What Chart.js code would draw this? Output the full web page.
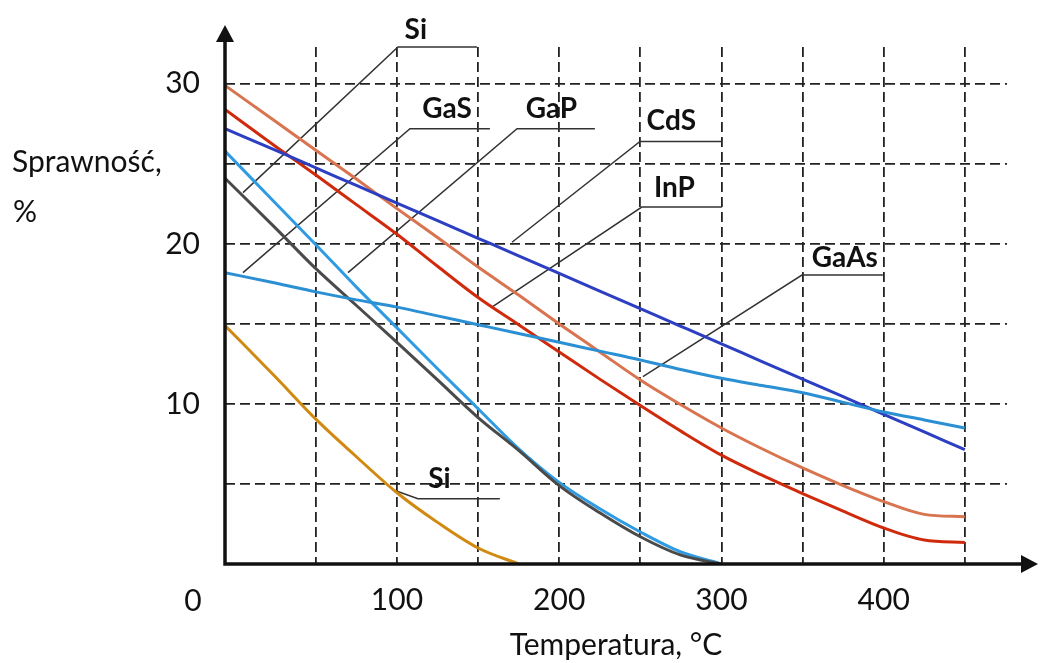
<!DOCTYPE html>
<html>
<head>
<meta charset="utf-8">
<script src="https://cdn.jsdelivr.net/npm/chart.js@4.4.1/dist/chart.umd.min.js"></script>
<style>
  html, body { margin: 0; padding: 0; background: #fff; }
  #wrap { width: 1040px; height: 663px; position: relative; }
</style>
</head>
<body>
<div id="wrap"><canvas id="effChart"></canvas></div>
<script>
// temperature, °C (shared sampling for every curve)
const temps = [-6, 25, 50, 75, 100, 125, 150, 175, 200, 225, 250, 275, 300, 325, 350, 375, 400, 425, 450];

// efficiency, % (null = curve ended)
const cdsVals  = [27.2, 25.85, 24.75, 23.65, 22.55, 21.45, 20.35, 19.25, 18.15, 17.05, 15.95, 14.85, 13.75, 12.65, 11.55, 10.45, 9.35, 8.25, 7.15];
const gaasVals = [29.9, 27.66, 25.85, 24.05, 22.2, 20.4, 18.55, 16.8, 15.0, 13.25, 11.5, 9.95, 8.5, 7.2, 6.0, 4.9, 3.9, 3.1, 2.95];
const inpVals  = [28.4, 26.1, 24.3, 22.45, 20.6, 18.6, 16.65, 14.95, 13.25, 11.55, 9.9, 8.3, 6.8, 5.55, 4.4, 3.3, 2.25, 1.5, 1.35];
const gasVals  = [18.2, 17.55, 17.0, 16.5, 16.05, 15.5, 14.95, 14.4, 13.85, 13.3, 12.75, 12.15, 11.6, 11.15, 10.7, 10.1, 9.5, 9.0, 8.5];
const gapVals  = [25.8, 22.55, 19.95, 17.3, 14.75, 12.2, 9.7, 7.2, 5.1, 3.45, 2.0, 0.75, 0, null, null, null, null, null, null];
const siHiVals = [24.1, 21.0, 18.45, 16.15, 13.85, 11.5, 9.15, 7.1, 4.9, 3.2, 1.7, 0.55, 0, null, null, null, null, null, null];
const siLoVals = [14.9, 11.7, 9.05, 6.7, 4.45, 2.6, 1.0, 0, null, null, null, null, null, null, null, null, null, null, null];

// grid and tick labels
const xGrid = [50, 100, 150, 200, 250, 300, 350, 400, 450];
const xTickLabels = [100, 200, 300, 400];
const yGrid = [5, 10, 15, 20, 25, 30];
const yTickLabels = [10, 20, 30];

// curve names with their leader lines, in data units
const notes = [
  { name: "Si",   at: [111.6, 32.8], path: [[5.1, 23.2], [100.6, 32.3], [149.3, 32.3]] },
  { name: "GaS",  at: [130.9, 27.85], path: [[5.1, 18.2], [108, 27.2], [157.3, 27.2]] },
  { name: "GaP",  at: [195.2, 27.85], path: [[69.8, 18.2], [174, 27.2], [222, 27.2]] },
  { name: "CdS",  at: [269.1, 27.1], path: [[170.9, 20.1], [249.8, 26.4], [300.3, 26.4]] },
  { name: "InP",  at: [271, 22.9], path: [[158.5, 16.05], [250.9, 22.3], [300.3, 22.3]] },
  { name: "GaAs", at: [376, 18.55], path: [[251.6, 11.7], [349.6, 18.05], [399.5, 18.05]] },
  { name: "Si",   at: [126.2, 4.77], path: [[97.5, 4.64], [112.9, 4.08], [163.4, 4.08]] },
];

function toPoints(vals) {
  const pts = [];
  vals.forEach((v, i) => {
    if (v !== null) pts.push({ x: temps[i], y: v });
  });
  return pts;
}

function curve(vals, color) {
  return {
    data: toPoints(vals),
    borderColor: color,
    borderWidth: 3,
    pointRadius: 0,
    fill: false,
    cubicInterpolationMode: "monotone",
  };
}

const datasets = [
  curve(gasVals, "#2b8fd3"),
  curve(siLoVals, "#d08a12"),
  curve(siHiVals, "#4a4a4a"),
  curve(gapVals, "#2f9be2"),
  curve(cdsVals, "#2c3fc2"),
  curve(inpVals, "#d02a0c"),
  curve(gaasVals, "#d8744f"),
];

notes.forEach((n) => {
  datasets.push({
    data: n.path.map((p) => ({ x: p[0], y: p[1] })),
    borderColor: "#333",
    borderWidth: 1.5,
    pointRadius: 0,
    tension: 0,
    fill: false,
    clip: false,
  });
});

const axisArrows = {
  id: "axisArrows",
  afterDraw(chart) {
    const { ctx, chartArea } = chart;
    const { left, bottom } = chartArea;
    const xEnd = 1038;
    const yEnd = 25;
    ctx.save();
    ctx.strokeStyle = "#111";
    ctx.fillStyle = "#111";
    ctx.lineWidth = 3.5;
    ctx.beginPath();
    ctx.moveTo(left, yEnd + 10);
    ctx.lineTo(left, bottom);
    ctx.lineTo(xEnd - 10, bottom);
    ctx.stroke();
    // arrow heads
    ctx.beginPath();
    ctx.moveTo(left, yEnd);
    ctx.lineTo(left - 9, yEnd + 17);
    ctx.lineTo(left + 9, yEnd + 17);
    ctx.closePath();
    ctx.fill();
    ctx.beginPath();
    ctx.moveTo(xEnd, bottom);
    ctx.lineTo(xEnd - 17, bottom - 9);
    ctx.lineTo(xEnd - 17, bottom + 9);
    ctx.closePath();
    ctx.fill();
    ctx.restore();
  },
};

const textNotes = {
  id: "textNotes",
  afterDraw(chart) {
    const { ctx, scales } = chart;
    ctx.save();
    ctx.fillStyle = "#111";
    ctx.textAlign = "center";
    ctx.textBaseline = "alphabetic";
    ctx.font = "bold 28px Lato";
    notes.forEach((n) => {
      ctx.fillText(n.name, scales.x.getPixelForValue(n.at[0]), scales.y.getPixelForValue(n.at[1]));
    });
    // y title and origin label
    ctx.font = "30px Lato";
    ctx.textAlign = "left";
    ctx.textBaseline = "middle";
    ctx.fillText("Sprawność,", 12, 162);
    ctx.fillText("%", 13, 212);
    ctx.textAlign = "center";
    ctx.fillText("0", 193, 601);
    ctx.restore();
  },
};

new Chart(document.getElementById("effChart"), {
  type: "line",
  data: { datasets: datasets },
  plugins: [axisArrows, textNotes],
  options: {
    responsive: true,
    maintainAspectRatio: false,
    animation: false,
    layout: { padding: { top: 47, right: 33, left: 0, bottom: 0 } },
    plugins: { legend: { display: false }, tooltip: { enabled: false } },
    scales: {
      x: {
        type: "linear",
        min: -6,
        max: 476,
        afterBuildTicks: (s) => { s.ticks = xGrid.map((v) => ({ value: v })); },
        afterFit: (s) => { s.height = 99; },
        grid: { color: "#222", lineWidth: 1.8, drawTicks: false },
        border: { display: false, dash: [10, 5] },
        ticks: {
          autoSkip: false,
          maxRotation: 0,
          padding: 18,
          color: "#111",
          font: { family: "Lato", size: 30 },
          callback: (v) => (xTickLabels.includes(v) ? String(v) : ""),
        },
        title: {
          display: true,
          text: "Temperatura, °C",
          color: "#111",
          font: { family: "Lato", size: 30 },
          padding: 0,
        },
      },
      y: {
        min: 0,
        max: 32.3,
        afterBuildTicks: (s) => { s.ticks = yGrid.map((v) => ({ value: v })); },
        afterFit: (s) => { s.width = 225; },
        grid: { color: "#222", lineWidth: 1.8, drawTicks: false },
        border: { display: false, dash: [10, 5] },
        ticks: {
          padding: 25,
          color: "#111",
          font: { family: "Lato", size: 30 },
          callback: (v) => (yTickLabels.includes(v) ? String(v) : ""),
        },
      },
    },
  },
});
</script>
</body>
</html>
